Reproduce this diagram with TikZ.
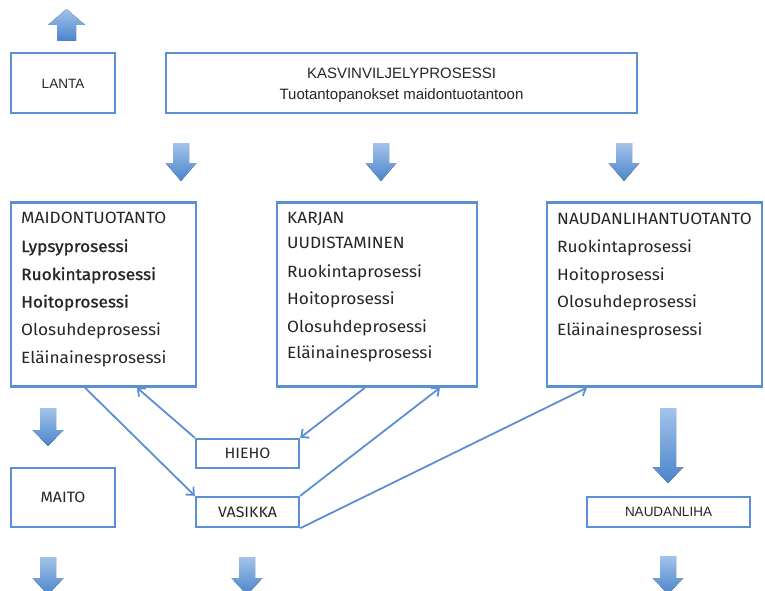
\documentclass[tikz,border=0pt]{standalone}
\usepackage{fontspec}
\setmainfont{Liberation Sans}
\newfontfamily\dinfont[FakeStretch=1.06]{Fira Sans}
\usetikzlibrary{arrows.meta}
\definecolor{boxblue}{HTML}{5B8FD3}
\definecolor{arrtop}{HTML}{A3C3EA}
\definecolor{arrbot}{HTML}{4A84CC}
\tikzset{
  box/.style={draw=boxblue, line width=2.4pt, fill=white, inner sep=0pt},
  conn/.style={draw=boxblue, line width=1.8pt, -{Straight Barb[length=6pt,width=11pt,line width=1.8pt]}},
  blk/.style={top color=arrtop, bottom color=arrbot, draw=none},
  dtxt/.style={font=\dinfont\fontsize{16.3}{18}\selectfont, anchor=base west, inner sep=0pt, text=black!85},
  dbold/.style={dtxt, font=\dinfont\fontsize{16.3}{18}\selectfont\addfontfeatures{FakeBold=1.2}},
  atxt/.style={font=\fontsize{13.5}{16}\selectfont, text=black!85},
  ctxt/.style={font=\dinfont\fontsize{15}{16}\selectfont, text=black!85},
  pics/downarr/.style n args={4}{code={
    \fill[blk] (-#1,0) -- (#1,0) -- (#1,#3) -- (#2,#3) -- (0,#4) -- (-#2,#3) -- (-#1,#3) -- cycle;
  }},
  pics/uparr/.style n args={4}{code={
    \fill[blk] (-#1,0) -- (#1,0) -- (#1,-#3) -- (#2,-#3) -- (0,-#4) -- (-#2,-#3) -- (-#1,-#3) -- cycle;
  }},
}
\begin{document}
\begin{tikzpicture}[x=1pt,y=-1pt]
\useasboundingbox (0,0) rectangle (765,591);
\clip (0,0) rectangle (765,591);

% block arrows
\pic at (66.5,41) {uparr={9.5}{18.5}{16}{32}};
\pic at (181,143) {downarr={8}{15.5}{20}{38}};
\pic at (381,143) {downarr={8}{15.5}{20}{38}};
\pic at (624,143) {downarr={8}{15.5}{20}{38}};
\pic at (48,408) {downarr={8}{15.5}{22}{38}};
\pic at (668,408) {downarr={8}{15.5}{59}{75}};
\pic at (48,557) {downarr={8}{15.5}{21}{38}};
\pic at (247,557) {downarr={8}{15.5}{21}{38}};
\pic at (668,556) {downarr={8}{15.5}{22}{38}};

% top row
\node[box, minimum width=104pt, minimum height=60pt] (lanta) at (63,83) {};
\node[atxt] (lantat) at ([yshift=-1pt]lanta.center) {LANTA};
\node[box, minimum width=471pt, minimum height=60pt] (kasvi) at (401.5,83) {};
\node[atxt, align=center, font=\fontsize{15}{21}\selectfont] (kasvit) at ([yshift=-2pt]kasvi.center) {KASVINVILJELYPROSESSI\\Tuotantopanokset maidontuotantoon};

% middle row
\node[box, minimum width=185pt, minimum height=184pt] (maid) at (103.5,294.5) {};
\node[box, minimum width=200pt, minimum height=184pt] (karj) at (377,294.5) {};
\node[box, minimum width=215pt, minimum height=184pt] (naud) at (654.5,294.5) {};

\node[dtxt]  (m1) at (21,223.5) {MAIDONTUOTANTO};
\node[dbold] (m2) at (21,252) {Lypsyprosessi};
\node[dbold] (m3) at (21,280) {Ruokintaprosessi};
\node[dbold] (m4) at (21,307.5) {Hoitoprosessi};
\node[dtxt]  (m5) at (21,335) {Olosuhdeprosessi};
\node[dtxt]  (m6) at (21,363) {Eläinainesprosessi};

\node[dtxt] (k1) at (287,223.5) {KARJAN};
\node[dtxt] (k2) at (287,248.5) {UUDISTAMINEN};
\node[dtxt] (k3) at (287,277) {Ruokintaprosessi};
\node[dtxt] (k4) at (287,304) {Hoitoprosessi};
\node[dtxt] (k5) at (287,332) {Olosuhdeprosessi};
\node[dtxt] (k6) at (287,358.5) {Eläinainesprosessi};

\node[dtxt] (n1) at (557,224.5) {NAUDANLIHANTUOTANTO};
\node[dtxt] (n2) at (557,252) {Ruokintaprosessi};
\node[dtxt] (n3) at (557,280) {Hoitoprosessi};
\node[dtxt] (n4) at (557,307.5) {Olosuhdeprosessi};
\node[dtxt] (n5) at (557,335) {Eläinainesprosessi};

% bottom boxes
\node[box, minimum width=104pt, minimum height=59pt] (maito) at (63,497.5) {};
\node[ctxt] (maitot) at (maito.center) {MAITO};
\node[box, minimum width=103pt, minimum height=29pt] (hieho) at (247.5,453.5) {};
\node[ctxt] (hiehot) at (hieho.center) {HIEHO};
\node[box, minimum width=103pt, minimum height=30pt] (vas) at (247.5,512) {};
\node[ctxt] (vast) at (vas.center) {VASIKKA};
\node[box, minimum width=163pt, minimum height=30pt] (nliha) at (668.5,512) {};
\node[atxt] (nlihat) at (nliha.center) {NAUDANLIHA};

% connectors
\draw[conn] ([xshift=-18.5pt]maid.south) -- (vas.north west);
\draw[conn] (hieho.north west) -- ([xshift=33.5pt]maid.south);
\draw[conn] ([xshift=-12pt]karj.south) -- (hieho.north east);
\draw[conn] (vas.north east) -- ([xshift=63pt]karj.south);
\draw[conn] (vas.south east) -- ([xshift=-67.5pt]naud.south);
\end{tikzpicture}
\end{document}
